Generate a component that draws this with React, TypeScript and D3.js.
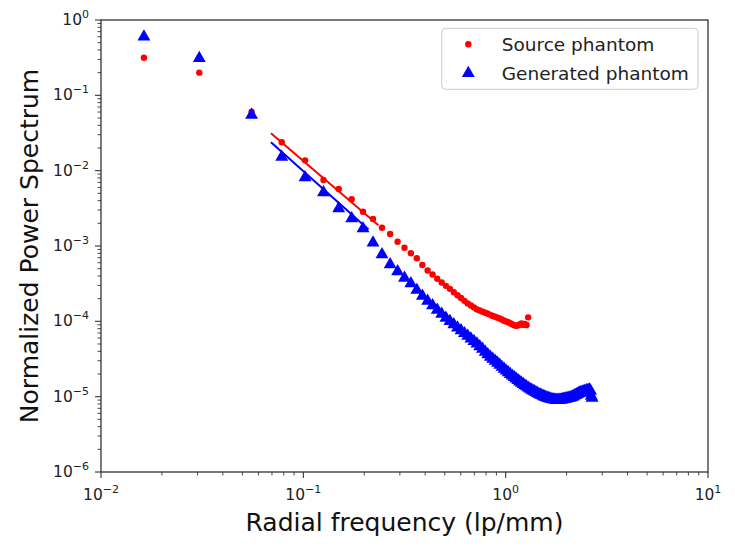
import React, { useEffect, useRef } from "react";
import * as d3 from "d3";

// ---- data ----
const headFreq = [0.0163, 0.0306, 0.0555];
const headSource = [0.316, 0.2, 0.0607];
const headGenerated = [0.6, 0.31, 0.0548];

const freqs = [
  0.0782, 0.102, 0.1258, 0.1496, 0.1734, 0.1972, 0.221, 0.2448, 0.2686, 0.2924,
  0.3162, 0.34, 0.3638, 0.3876, 0.4114, 0.4352, 0.459, 0.4828, 0.5066, 0.5304,
  0.5542, 0.578, 0.6018, 0.6256, 0.6494, 0.6732, 0.697, 0.7208, 0.7446, 0.7684,
  0.7922, 0.816, 0.8398, 0.8636, 0.8874, 0.9112, 0.935, 0.9588, 0.9826, 1.0064,
  1.0302, 1.054, 1.0778, 1.1016, 1.1254, 1.1492, 1.173, 1.1968, 1.2206, 1.2444,
  1.2682, 1.292, 1.3158, 1.3396, 1.3634, 1.3872, 1.411, 1.4348, 1.4586, 1.4824,
  1.5062, 1.53, 1.5538, 1.5776, 1.6014, 1.6252, 1.649, 1.6728, 1.6966, 1.7204,
  1.7442, 1.768, 1.7918, 1.8156, 1.8394, 1.8632, 1.887, 1.9108, 1.9346, 1.9584,
  1.9822, 2.006, 2.0298, 2.0536, 2.0774, 2.1012, 2.125, 2.1488, 2.1726, 2.1964,
  2.2202, 2.244, 2.2678, 2.2916, 2.3154, 2.3392, 2.363, 2.3868, 2.4106, 2.4344,
  2.4582, 2.482, 2.5058, 2.5296, 2.5534, 2.5772, 2.601, 2.6248, 2.6486, 2.6724,
];

const sourcePS = [
  0.0238, 0.0137, 0.00752, 0.00571, 0.00417, 0.00285, 0.00228, 0.00175, 0.00144, 0.00114,
  0.000949, 0.0008, 0.000687, 0.000559, 0.000473, 0.000418, 0.000368, 0.000327, 0.000296, 0.00027,
  0.000243, 0.000222, 0.000204, 0.000187, 0.000173, 0.000162, 0.000153, 0.000144, 0.000139, 0.000134,
  0.00013, 0.000126, 0.000122, 0.000118, 0.000115, 0.000112, 0.000109, 0.000106, 0.000102, 0.0000995,
  0.0000971, 0.0000944, 0.0000916, 0.0000886, 0.0000872, 0.000088, 0.0000907, 0.0000936, 0.0000894, 0.0000921,
  0.0000894, 0.000113,
];

const generatedPS = [
  0.01518, 0.00811, 0.00513, 0.003145, 0.002317, 0.001707, 0.001106, 0.000771, 0.000568, 0.000459,
  0.000376, 0.000318, 0.00026, 0.000217, 0.000186, 0.000162, 0.0001413, 0.0001251, 0.0001107, 0.0001001,
  0.0000907, 0.0000823, 0.0000755, 0.0000693, 0.0000638, 0.0000586, 0.0000543, 0.0000503, 0.0000463, 0.0000429,
  0.0000391, 0.0000363, 0.0000336, 0.0000316, 0.0000297, 0.000028, 0.0000263, 0.0000247, 0.0000233, 0.000022,
  0.0000209, 0.0000199, 0.0000189, 0.0000181, 0.0000173, 0.0000165, 0.0000158, 0.0000152, 0.0000146, 0.0000141,
  0.0000136, 0.0000131, 0.0000127, 0.0000123, 0.000012, 0.0000117, 0.0000114, 0.0000111, 0.0000108, 0.0000106,
  0.0000104, 0.0000102, 0.00000998, 0.00000983, 0.00000968, 0.00000954, 0.00000942, 0.00000931, 0.00000922, 0.00000914,
  0.00000908, 0.00000903, 0.00000903, 0.00000903, 0.00000905, 0.00000908, 0.0000091, 0.00000917, 0.00000925, 0.00000931,
  0.00000939, 0.00000948, 0.00000954, 0.0000096, 0.00000966, 0.00000974, 0.00000989, 0.00001, 0.0000102, 0.0000104,
  0.0000105, 0.0000107, 0.0000108, 0.000011, 0.0000112, 0.0000114, 0.0000112, 0.0000115, 0.0000117, 0.0000114,
  0.0000119, 0.0000115, 0.0000121, 0.0000117, 0.0000123, 0.0000115, 0.0000124, 0.0000119, 0.0000102, 0.0000096,
];

// power-law fit lines (endpoints)
const sourceFitFreq = [0.0692, 0.235];
const sourceFit = [0.0313, 0.00189];
const generatedFitFreq = [0.0692, 0.21];
const generatedFit = [0.0238, 0.00166];

const xDecades = [-2, -1, 0, 1];
const yDecades = [0, -1, -2, -3, -4, -5, -6];

const seriesLabels = ["Source phantom", "Generated phantom"];
const xTitle = "Radial frequency (lp/mm)";
const yTitle = "Normalized Power Spectrum";

const W = 735;
const H = 546;
const FONT = "'DejaVu Sans', sans-serif";
const RED = "#ff0000";
const BLUE = "#0000ff";
const AX = "#333333";

export default function App() {
  const ref = useRef<SVGSVGElement | null>(null);

  useEffect(() => {
    document.body.style.margin = "0";
    const svg = d3.select(ref.current);
    svg.selectAll("*").remove();

    const left = 101, right = 708, top = 20, bottom = 472;
    const x = d3.scaleLog().domain([0.01, 10]).range([left, right]);
    const y = d3.scaleLog().domain([1e-6, 1]).range([bottom, top]);

    svg.append("rect").attr("width", W).attr("height", H).attr("fill", "#fff");

    const g = svg.append("g");

    // ticks
    const major = 6, minor = 3.5;
    for (const e of xDecades) {
      const v = Math.pow(10, e);
      g.append("line").attr("x1", x(v)).attr("x2", x(v)).attr("y1", bottom).attr("y2", bottom + major)
        .attr("stroke", AX).attr("stroke-width", 1.1);
      const t = g.append("text").attr("x", x(v)).attr("y", bottom + 28).attr("text-anchor", "middle")
        .attr("font-family", FONT).attr("font-size", 15.5).attr("fill", "#222");
      t.append("tspan").text("10");
      t.append("tspan").attr("dy", -7).attr("font-size", 11).text(e < 0 ? "\u2212" + Math.abs(e) : String(e));
      if (e < 1) {
        for (let k = 2; k <= 9; k++) {
          const mv = k * v;
          g.append("line").attr("x1", x(mv)).attr("x2", x(mv)).attr("y1", bottom).attr("y2", bottom + minor)
            .attr("stroke", AX).attr("stroke-width", 0.9);
        }
      }
    }
    for (const e of yDecades) {
      const v = Math.pow(10, e);
      g.append("line").attr("x1", left - major).attr("x2", left).attr("y1", y(v)).attr("y2", y(v))
        .attr("stroke", AX).attr("stroke-width", 1.1);
      const t = g.append("text").attr("x", left - 12).attr("y", y(v) + 5).attr("text-anchor", "end")
        .attr("font-family", FONT).attr("font-size", 15.5).attr("fill", "#222");
      t.append("tspan").text("10");
      t.append("tspan").attr("dy", -7).attr("font-size", 11).text(e < 0 ? "\u2212" + Math.abs(e) : String(e));
      if (e > -6) {
        for (let k = 2; k <= 9; k++) {
          const mv = (k * v) / 10;
          g.append("line").attr("x1", left - minor).attr("x2", left).attr("y1", y(mv)).attr("y2", y(mv))
            .attr("stroke", AX).attr("stroke-width", 0.9);
        }
      }
    }

    // axis titles
    svg.append("text").attr("x", (left + right) / 2).attr("y", 531).attr("text-anchor", "middle")
      .attr("font-family", FONT).attr("font-size", 25).attr("fill", "#111").text(xTitle);
    svg.append("text").attr("transform", `translate(38,${(top + bottom) / 2}) rotate(-90)`)
      .attr("text-anchor", "middle").attr("font-family", FONT).attr("font-size", 25).attr("fill", "#111").text(yTitle);

    // clip
    svg.append("clipPath").attr("id", "plotclip").append("rect")
      .attr("x", left).attr("y", top).attr("width", right - left).attr("height", bottom - top);
    const plot = svg.append("g").attr("clip-path", "url(#plotclip)");

    const srcPts = headFreq.map((f, i) => [f, headSource[i]]).concat(sourcePS.map((v, i) => [freqs[i], v]));
    const genPts = headFreq.map((f, i) => [f, headGenerated[i]]).concat(generatedPS.map((v, i) => [freqs[i], v]));

    const line = d3.line<number[]>().x((d) => x(d[0])).y((d) => y(d[1]));
    const tri = d3.symbol().type(d3.symbolTriangle).size(72);

    plot.selectAll("circle.src").data(srcPts).enter().append("circle")
      .attr("cx", (d) => x(d[0])).attr("cy", (d) => y(d[1])).attr("r", 3.2).attr("fill", RED);
    plot.selectAll("path.gen").data(genPts).enter().append("path")
      .attr("d", tri).attr("transform", (d) => `translate(${x(d[0])},${y(d[1])})`).attr("fill", BLUE);

    plot.append("path").datum(sourceFitFreq.map((f, i) => [f, sourceFit[i]])).attr("d", line)
      .attr("fill", "none").attr("stroke", RED).attr("stroke-width", 2);
    plot.append("path").datum(generatedFitFreq.map((f, i) => [f, generatedFit[i]])).attr("d", line)
      .attr("fill", "none").attr("stroke", BLUE).attr("stroke-width", 2);

    // frame
    svg.append("rect").attr("x", left).attr("y", top).attr("width", right - left).attr("height", bottom - top)
      .attr("fill", "none").attr("stroke", AX).attr("stroke-width", 1.3);

    // legend
    const lg = svg.append("g");
    lg.append("rect").attr("x", 441.7).attr("y", 28.3).attr("width", 256.3).attr("height", 61).attr("rx", 4)
      .attr("fill", "#fff").attr("fill-opacity", 0.8).attr("stroke", "#cccccc").attr("stroke-width", 1);
    const rows = [44.3, 73.3];
    lg.append("circle").attr("cx", 468.3).attr("cy", rows[0]).attr("r", 3.2).attr("fill", RED);
    lg.append("path").attr("d", tri).attr("transform", `translate(468.3,${rows[1]})`).attr("fill", BLUE);
    seriesLabels.forEach((s, i) => {
      lg.append("text").attr("x", 501.7).attr("y", rows[i] + 6.7).attr("font-family", FONT)
        .attr("font-size", 18.5).attr("fill", "#222").text(s);
    });
  }, []);

  return <svg ref={ref} width={W} height={H} style={{ display: "block" }} />;
}
